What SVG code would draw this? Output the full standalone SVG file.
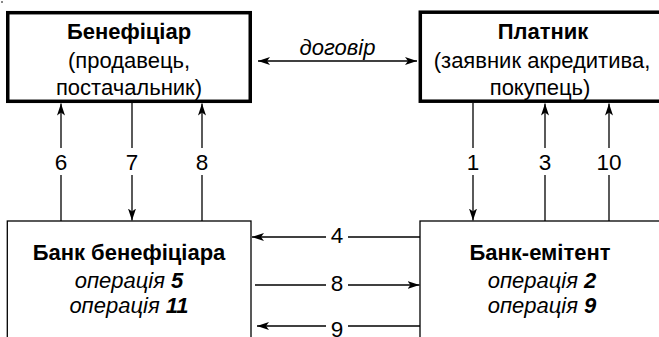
<svg xmlns="http://www.w3.org/2000/svg" width="659" height="337" viewBox="0 0 659 337">
<defs>
<style>
text{font-family:"Liberation Sans",Arial,sans-serif;font-size:22px;fill:#000;text-anchor:middle}
.b{font-weight:bold}
.i{font-style:italic}
.n{font-size:22.5px}
.thick{fill:#fff;stroke:#000;stroke-width:3.5}
.thin{fill:#fff;stroke:#000;stroke-width:1.3}
.ln{stroke:#000;stroke-width:1.3;fill:none}
</style>
<marker id="ah" viewBox="0 0 12 8" refX="12" refY="4" markerWidth="12" markerHeight="8" markerUnits="userSpaceOnUse" orient="auto-start-reverse">
<path d="M0,0 L12,4 L0,8 L3,4 z" fill="#000"/>
</marker>
</defs>
<rect x="0" y="0" width="659" height="337" fill="#fff"/>
<rect x="1" y="1" width="2" height="2" fill="#888"/>
<g id="beneficiary">
<rect class="thick" x="7.75" y="12.7" width="242.5" height="88.6"/>
<text class="b" x="129" y="39">Бенефіціар</text>
<text x="129" y="68">(продавець,</text>
<text x="129" y="95">постачальник)</text>
</g>
<g id="payer">
<rect class="thick" x="420.3" y="12.2" width="260" height="89"/>
<text class="b" x="543" y="39">Платник</text>
<text x="542" y="68">(заявник акредитива,</text>
<text x="540" y="95">покупець)</text>
</g>
<g id="bank-beneficiary">
<rect class="thin" x="7.3" y="221" width="243.7" height="130"/>
<text class="b" x="129" y="260">Банк бенефіціара</text>
<text x="129" y="288"><tspan class="i">операція </tspan><tspan class="b i">5</tspan></text>
<text x="129" y="313"><tspan class="i">операція </tspan><tspan class="b i">11</tspan></text>
</g>
<g id="bank-issuer">
<rect class="thin" x="420" y="221" width="260" height="130"/>
<text class="b" x="540" y="260">Банк-емітент</text>
<text x="542" y="288"><tspan class="i">операція </tspan><tspan class="b i">2</tspan></text>
<text x="542" y="313"><tspan class="i">операція </tspan><tspan class="b i">9</tspan></text>
</g>
<g id="connectors">
<line class="ln" x1="258" y1="61" x2="417" y2="61" marker-start="url(#ah)" marker-end="url(#ah)"/>
<text class="i" x="337.5" y="55">договір</text>
<line class="ln" x1="61" y1="148" x2="61" y2="103.5" marker-end="url(#ah)"/>
<line class="ln" x1="61" y1="221" x2="61" y2="175"/>
<text class="n" x="61" y="170">6</text>
<line class="ln" x1="132" y1="103" x2="132" y2="148"/>
<line class="ln" x1="132" y1="175" x2="132" y2="220.5" marker-end="url(#ah)"/>
<text class="n" x="132" y="170">7</text>
<line class="ln" x1="202" y1="148" x2="202" y2="103.5" marker-end="url(#ah)"/>
<line class="ln" x1="202" y1="221" x2="202" y2="175"/>
<text class="n" x="202" y="170">8</text>
<line class="ln" x1="473" y1="103" x2="473" y2="148"/>
<line class="ln" x1="473" y1="175" x2="473" y2="220.5" marker-end="url(#ah)"/>
<text class="n" x="473" y="170">1</text>
<line class="ln" x1="545" y1="148" x2="545" y2="103.5" marker-end="url(#ah)"/>
<line class="ln" x1="545" y1="221" x2="545" y2="175"/>
<text class="n" x="545" y="170">3</text>
<line class="ln" x1="609" y1="148" x2="609" y2="103.5" marker-end="url(#ah)"/>
<line class="ln" x1="609" y1="221" x2="609" y2="175"/>
<text class="n" x="609" y="170">10</text>
<line class="ln" x1="326" y1="237" x2="252" y2="237" marker-end="url(#ah)"/>
<line class="ln" x1="420" y1="237" x2="348" y2="237"/>
<text class="n" x="337" y="243">4</text>
<line class="ln" x1="255" y1="285" x2="326" y2="285"/>
<line class="ln" x1="348" y1="285" x2="419.5" y2="285" marker-end="url(#ah)"/>
<text class="n" x="337" y="291">8</text>
<line class="ln" x1="326" y1="326" x2="257" y2="326" marker-end="url(#ah)"/>
<line class="ln" x1="420" y1="326" x2="348" y2="326"/>
<text class="n" x="337" y="337">9</text>
</g>
</svg>
